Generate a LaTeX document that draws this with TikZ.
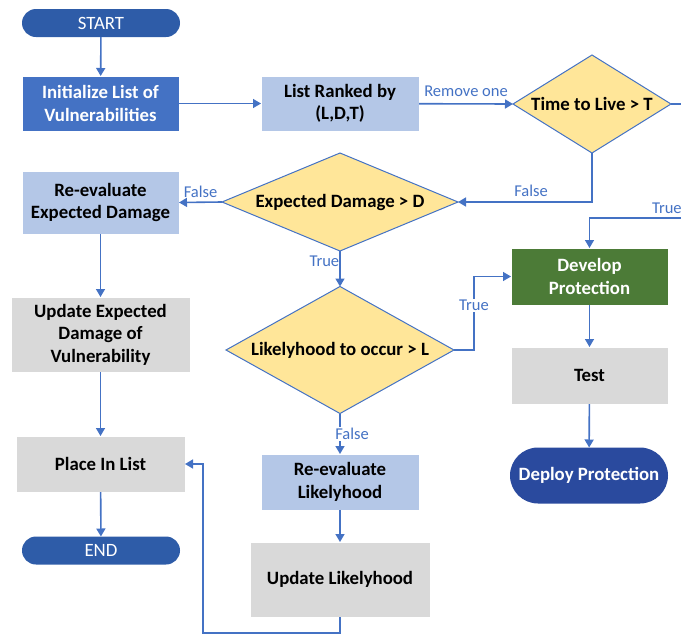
\documentclass[tikz,border=0pt]{standalone}
\usepackage{fontspec}
\setmainfont{Carlito}
\usetikzlibrary{shapes.geometric,arrows.meta}

\definecolor{flowline}{HTML}{4472C4}
\definecolor{termfill}{HTML}{2E5CA8}
\definecolor{initfill}{HTML}{4472C4}
\definecolor{lightblue}{HTML}{B4C7E7}
\definecolor{lightgray}{HTML}{D9D9D9}
\definecolor{decisionfill}{HTML}{FFE699}
\definecolor{devgreen}{HTML}{4C7B37}
\definecolor{deployblue}{HTML}{2A4A9E}

\begin{document}
\begin{tikzpicture}[x=1pt,y=-1pt,
  boxtext/.style={font=\bfseries\fontsize{18.8}{22.5}\selectfont, align=center},
  procbox/.style={rectangle, boxtext, draw=white, line width=0.6pt, inner sep=0pt, outer sep=0pt},
  bluebox/.style={procbox, fill=lightblue, text=black},
  graybox/.style={procbox, fill=lightgray, text=black},
  terminal/.style={rectangle, rounded corners=14pt, fill=termfill, text=white, inner sep=0pt, outer sep=0pt,
    minimum width=158pt, minimum height=28pt, font=\fontsize{18.8}{22}\selectfont},
  decision/.style={diamond, fill=decisionfill, draw=flowline, line width=1pt, inner sep=0pt, outer sep=0pt,
    font=\bfseries\fontsize{18.8}{22}\selectfont, text=black},
  flow/.style={draw=flowline, line width=1.6pt, -{Triangle[length=8pt,width=9pt]}},
  plainline/.style={draw=flowline, line width=1.6pt},
  flowlabel/.style={text=flowline, font=\fontsize{16.5}{18}\selectfont, inner sep=1pt},
]
\path[use as bounding box] (0,0) rectangle (681,635);
\begin{scope}
\clip (0,0) rectangle (681,635);

% terminals
\node[terminal] (start) at (101,23) {START};
\node[terminal] (endn) at (101,550.5) {END};

% left column
\node[procbox, fill=initfill, text=white, minimum width=157pt, minimum height=55pt] (init) at (100.5,103.5)
  {Initialize List of\\Vulnerabilities};
\node[bluebox, minimum width=157pt, minimum height=63pt] (red) at (100.5,202.5)
  {Re-evaluate\\Expected Damage};
\node[graybox, minimum width=179pt, minimum height=75pt] (ued) at (100.5,334.5)
  {Update Expected\\Damage of\\Vulnerability};
\node[graybox, minimum width=169pt, minimum height=56pt] (pil) at (100.5,464)
  {Place In List};

% middle column
\node[bluebox, minimum width=158pt, minimum height=55pt] (rank) at (340,103.5)
  {List Ranked by\\(L,D,T)};
\node[decision, minimum width=236pt, minimum height=98pt] (ed) at (340,202)
  {\makebox[0pt]{Expected Damage > D}};
\node[decision, minimum width=228pt, minimum height=127pt] (lo) at (340,350)
  {\makebox[0pt]{Likelyhood to occur > L}};
\node[bluebox, minimum width=158pt, minimum height=56pt] (rl) at (340,482)
  {Re-evaluate\\Likelyhood};
\node[graybox, minimum width=180pt, minimum height=75pt] (ul) at (340,579.5)
  {Update Likelyhood};

% right column
\node[decision, minimum width=158pt, minimum height=98pt] (ttl) at (592,104)
  {\makebox[0pt]{Time to Live > T}};
\node[procbox, fill=devgreen, text=white, minimum width=157pt, minimum height=57pt] (dev) at (589.5,276.5)
  {Develop\\Protection};
\node[graybox, minimum width=157pt, minimum height=57pt] (test) at (589.5,375.5)
  {Test};
\node[rectangle, rounded corners=28pt, fill=deployblue, text=white, boxtext, inner sep=0pt, outer sep=0pt,
  minimum width=158pt, minimum height=56pt] (dep) at (589,475.5) {Deploy Protection};

% helper points for bent connectors
\coordinate (ttlout) at (700,104);
\coordinate (truein) at (700,218);
\coordinate (trueturn) at (589.5,218);
\coordinate (ttlturn) at (592,202);
\coordinate (loturn) at (474,350);
\coordinate (devturn) at (474,276.5);
\coordinate (ulturn) at (340,633);
\coordinate (loopcorner) at (203,633);
\coordinate (loopup) at (203,464);

% connectors
\draw[flow] (start) -- (init);
\draw[flow] (init) -- (rank);
\draw[flow] (rank) -- node[flowlabel, above, yshift=5pt] {Remove one} (ttl.west);
\draw[plainline] (ttl.east) -- (ttlout);
\draw[flow] (ttl.south) -- (ttlturn) -- node[flowlabel, above, pos=0.5, xshift=6pt, yshift=4pt] {False} (ed.east);
\draw[flow] (ed.west) -- node[flowlabel, above, yshift=3pt] {False} (red.east);
\draw[flow] (red) -- (ued);
\draw[flow] (ued) -- (pil);
\draw[flow] (pil) -- (endn);
\draw[flow] (ed.south) -- node[flowlabel, left, xshift=1pt, pos=0.3] {True} (lo.north);
\draw[flow] (lo.east) -- (loturn) -- node[flowlabel, fill=white, pos=0.61] {True} (devturn) -- (dev.west);
\draw[flow] (lo.south) -- node[flowlabel, fill=white, pos=0.5, xshift=12pt] {False} (rl.north);
\draw[flow] (rl) -- (ul);
\draw[flow] (ul.south) -- (ulturn) -- (loopcorner) -- (loopup) -- (pil.east);
\draw[flow] (truein) -- node[flowlabel, above, pos=0.3, yshift=3pt] {True} (trueturn) -- (dev.north);
\draw[flow] (dev) -- (test);
\draw[flow] (test) -- (dep);
\end{scope}
\end{tikzpicture}
\end{document}
